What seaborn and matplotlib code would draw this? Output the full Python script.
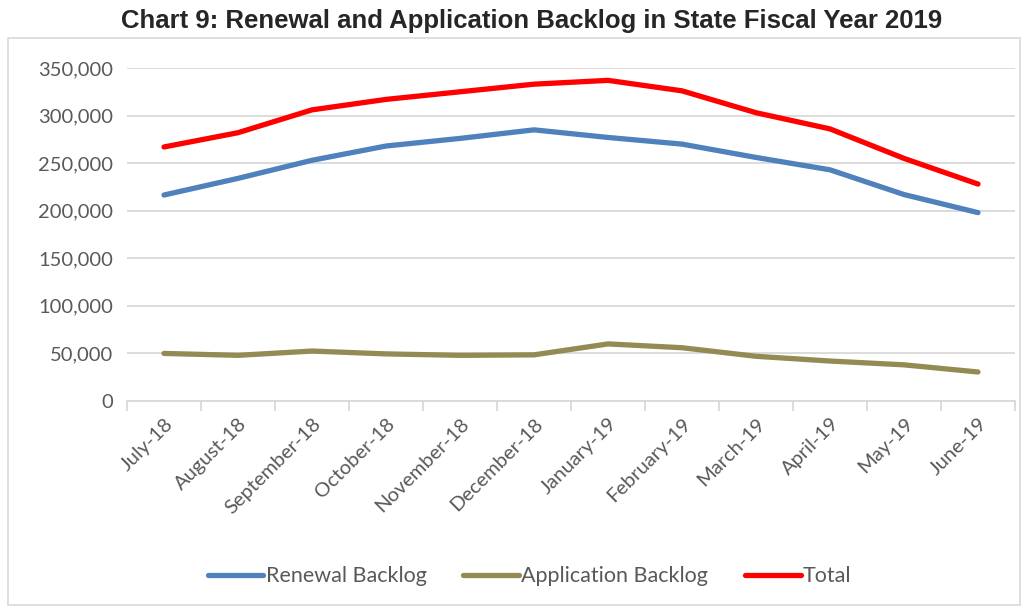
import pandas as pd
import matplotlib
matplotlib.use('Agg')
import matplotlib.pyplot as plt
import seaborn as sns
from matplotlib.patches import Rectangle
from matplotlib.ticker import FuncFormatter, FixedLocator

months = ['July-18', 'August-18', 'September-18', 'October-18', 'November-18', 'December-18',
          'January-19', 'February-19', 'March-19', 'April-19', 'May-19', 'June-19']
renewal = [216500, 234000, 253000, 268000, 276000, 285000, 277000, 270000, 256000, 243000, 217000, 198000]
application = [50000, 48000, 52500, 49500, 48000, 48500, 60000, 56000, 47000, 42000, 38000, 30500]
total = [267000, 282000, 306000, 317000, 325000, 333000, 337000, 326000, 303000, 286000, 255000, 228000]

series_names = ['Renewal Backlog', 'Application Backlog', 'Total']
colors = ['#4F81BD', '#948A54', '#FF0000']

df = pd.DataFrame({'Month': months * 3,
                   'Value': renewal + application + total,
                   'Series': [s for s in series_names for _ in months]})

sns.set_style('white')
plt.rcParams['font.family'] = ['Lato', 'DejaVu Sans']

fig = plt.figure(figsize=(10.32, 6.09), dpi=100)
ax = fig.add_axes([127 / 1032, 1 - 401 / 609, 888 / 1032, 333 / 609])

# chart border
fig.patches.append(Rectangle((8 / 1032, 4 / 609), 1012 / 1032, 567 / 609, transform=fig.transFigure,
                             fill=False, edgecolor='#D9D9D9', linewidth=1.2))

sns.lineplot(data=df, x='Month', y='Value', hue='Series', palette=colors, sort=False,
             linewidth=3.8, ax=ax, legend=False, solid_capstyle='round')

ax.set_xlim(-0.5, 11.5)
ax.set_ylim(0, 350000)
ax.set_yticks(range(0, 350001, 50000))
ax.yaxis.set_major_formatter(FuncFormatter(lambda v, p: f'{int(v):,}'))
ax.grid(axis='y', color='#D9D9D9', linewidth=1.3)
ax.set_axisbelow(True)
for s in ['top', 'right', 'left']:
    ax.spines[s].set_visible(False)
ax.spines['bottom'].set_color('#D9D9D9')
ax.spines['bottom'].set_linewidth(1.3)

ax.set_xticks(range(12))
ax.set_xticklabels(months, rotation=45, ha='right', rotation_mode='anchor')
ax.xaxis.set_minor_locator(FixedLocator([i - 0.5 for i in range(13)]))
ax.tick_params(axis='x', which='major', length=0, pad=10, labelsize=14.5, labelcolor='#595959')
ax.tick_params(axis='x', which='minor', length=7, color='#D9D9D9', width=1.3, bottom=True)
ax.tick_params(axis='y', length=0, pad=10, labelsize=14.5, labelcolor='#595959')
ax.set_xlabel('')
ax.set_ylabel('')

fig.text(0.515, 0.966, 'Chart 9: Renewal and Application Backlog in State Fiscal Year 2019',
         ha='center', va='center', fontsize=18.5, fontweight='bold',
         family=['Liberation Sans Narrow', 'Liberation Sans', 'DejaVu Sans'])

handles = [plt.Line2D([], [], color=c, linewidth=3.8, solid_capstyle='round') for c in colors]
fig.legend(handles, series_names, loc='center', bbox_to_anchor=(0.513, 0.054), ncol=3,
           frameon=False, fontsize=15.5, handlelength=2.6, handletextpad=0.1, columnspacing=1.7,
           labelcolor='#595959')

fig.savefig('out.png', dpi=100)
